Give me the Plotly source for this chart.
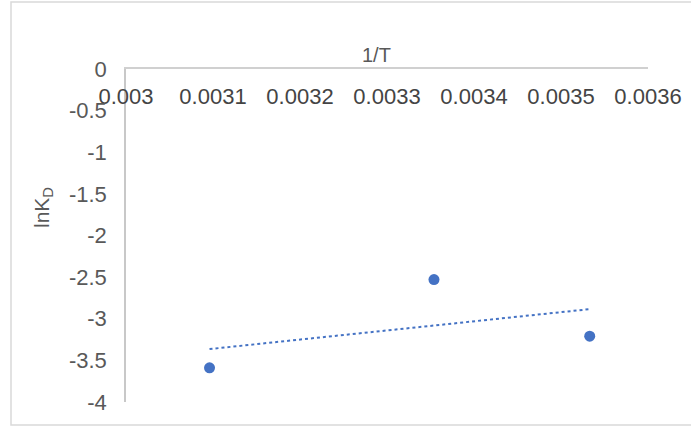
import numpy as np
import plotly.graph_objects as go

# data
inv_T = [0.003096, 0.003354, 0.003533]
ln_KD = [-3.59, -2.53, -3.21]

x_ticks = [0.003, 0.0031, 0.0032, 0.0033, 0.0034, 0.0035, 0.0036]
x_tick_labels = ["0.003", "0.0031", "0.0032", "0.0033", "0.0034", "0.0035", "0.0036"]
y_ticks = [0, -0.5, -1, -1.5, -2, -2.5, -3, -3.5, -4]
y_tick_labels = ["0", "-0.5", "-1", "-1.5", "-2", "-2.5", "-3", "-3.5", "-4"]

W, H = 691, 426
L, R, T, B = 126, 43, 69, 24
pw, ph = W - L - R, H - T - B

def px_x(p):
    return (p - L) / pw  # pixel -> paper x

def px_y(p):
    return (H - B - p) / ph  # pixel -> paper y

blue = "#4472C4"
grey_txt = "#595959"
font = "Liberation Sans, Arial, sans-serif"

# linear trendline like Excel's, over the data range
slope, icpt = np.polyfit(inv_T, ln_KD, 1)
trend_x = [min(inv_T), max(inv_T)]
trend_y = [slope * v + icpt for v in trend_x]

fig = go.Figure()
fig.add_trace(go.Scatter(x=trend_x, y=trend_y, mode="lines",
                         line=dict(color=blue, width=2, dash="dot"), hoverinfo="skip"))
fig.add_trace(go.Scatter(x=inv_T, y=ln_KD, mode="markers",
                         marker=dict(color=blue, size=11)))

fig.update_layout(
    width=W, height=H,
    margin=dict(l=L, r=R, t=T, b=B),
    paper_bgcolor="white", plot_bgcolor="white",
    showlegend=False,
    font=dict(family=font, size=22, color=grey_txt),
    xaxis=dict(range=[0.003, 0.0036], side="top", tickvals=x_ticks, ticktext=x_tick_labels,
               ticklabelposition="inside", ticklabeloverflow="allow", ticklabelstandoff=21,
               ticks="", automargin=False,
               showgrid=False, zeroline=False, showline=True, linecolor="#d0d0d0", linewidth=1.5),
    yaxis=dict(range=[-4, 0], tickvals=y_ticks, ticktext=y_tick_labels, ticks="",
               ticklabelstandoff=13, ticklabeloverflow="allow", automargin=False,
               showgrid=False, zeroline=False,
               showline=True, linecolor="#c8c8c8", linewidth=1.5),
)

# chart border (right edge falls outside the picture)
fig.add_shape(type="rect", xref="paper", yref="paper",
              x0=px_x(11), x1=px_x(705), y0=px_y(425), y1=px_y(2),
              line=dict(color="#d9d9d9", width=1.5))

# axis titles
fig.add_annotation(text="1/T", xref="paper", yref="paper", x=px_x(376), y=px_y(42),
                   showarrow=False, font=dict(size=20, color=grey_txt))
fig.add_annotation(text="lnK<sub>D</sub>", xref="paper", yref="paper", x=px_x(28), y=px_y(208),
                   showarrow=False, textangle=-90, font=dict(size=21, color=grey_txt))

# drop the page's default body margin so the figure sits at the window's corner
fig.write_html("out.html", config={"displayModeBar": False},
               post_script="document.body.style.margin='0';document.body.style.overflow='hidden';")
